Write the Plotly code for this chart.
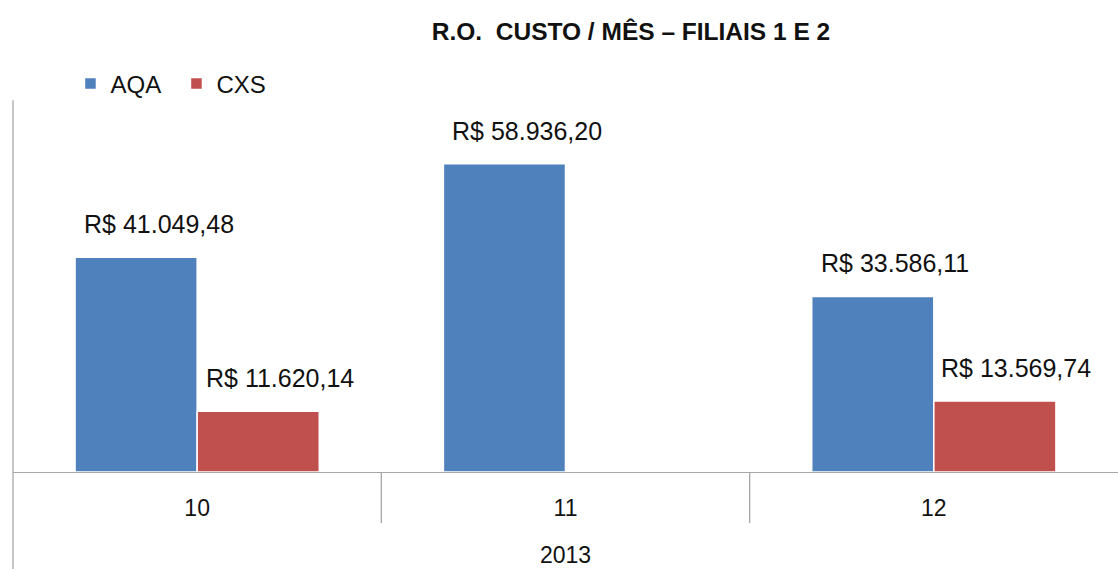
import plotly.graph_objects as go

months = ["10", "11", "12"]
year_label = "2013"
aqa = [41049.48, 58936.20, 33586.11]
cxs = [11620.14, None, 13569.74]
series_names = ["AQA", "CXS"]
title_text = "R.O.&nbsp; CUSTO / MÊS – FILIAIS 1 E 2"

BLUE = "#4F81BD"
RED = "#C0504D"
AXIS = "#A6A6A6"
FONT = "Liberation Sans"
TXT = "#111111"


def brl(v):
    s = f"{v:,.2f}"
    s = s.replace(",", "X").replace(".", ",").replace("X", ".")
    return "R$ " + s


fig = go.Figure()
for name, vals, col in [(series_names[0], aqa, BLUE), (series_names[1], cxs, RED)]:
    fig.add_trace(go.Bar(
        name=name, x=months, y=vals,
        marker=dict(color=col, line=dict(color="white", width=1.5)),
        hoverinfo="skip",
    ))

# data labels (slightly right of bar centre, like the original)
half_bar = 60.5
label_push = 22
for i, m in enumerate(months):
    for vals, off in [(aqa, -half_bar + label_push), (cxs, half_bar + label_push)]:
        v = vals[i]
        if v is None:
            continue
        fig.add_annotation(x=i, y=v, xref="x", yref="y", text=brl(v),
                           showarrow=False, xanchor="center", yanchor="bottom",
                           xshift=off, yshift=17,
                           font=dict(family=FONT, size=25, color=TXT))

shapes = []
# category dividers below axis
for xb in [0.5, 1.5]:
    shapes.append(dict(type="line", xref="x", yref="paper", x0=xb, x1=xb,
                       y0=0, y1=-51 / 366, line=dict(color=AXIS, width=1.3)))
# left axis line extended
shapes.append(dict(type="line", xref="paper", yref="paper", x0=0, x1=0,
                   y0=-97 / 366, y1=1.016, line=dict(color=AXIS, width=1.3)))
fig.update_layout(shapes=shapes)

fig.add_annotation(xref="paper", yref="paper", x=0.5, y=-83 / 366, text=year_label,
                   showarrow=False, xanchor="center", yanchor="middle",
                   font=dict(family=FONT, size=23, color=TXT))

fig.update_layout(
    width=1118, height=569,
    margin=dict(l=13, r=0, t=106, b=97),
    paper_bgcolor="white", plot_bgcolor="white",
    barmode="group", bargap=0.337, bargroupgap=0.0,
    title=dict(text="<b>" + title_text + "</b>", x=631 / 1118, xanchor="center",
               y=1 - 31 / 569, yanchor="middle",
               font=dict(family=FONT, size=24.5, color=TXT)),
    legend=dict(orientation="h", x=0.052, xanchor="left",
                y=1 + 22 / 366, yanchor="middle",
                font=dict(family=FONT, size=24, color=TXT),
                itemwidth=30, tracegroupgap=0, traceorder="normal",
                entrywidth=61, entrywidthmode="pixels"),
    xaxis=dict(type="category", showline=True, linecolor=AXIS, linewidth=1.3,
               ticks="", showgrid=False, zeroline=False,
               tickfont=dict(family=FONT, size=23, color=TXT),
               ticklabelstandoff=15),
    yaxis=dict(range=[0, 70000], showticklabels=False, showgrid=False,
               zeroline=False, showline=False, ticks=""),
    showlegend=True,
)

fig.write_html("out.html",
               config={"displayModeBar": False},
               post_script="document.body.style.margin='0';document.body.style.overflow='hidden';")
